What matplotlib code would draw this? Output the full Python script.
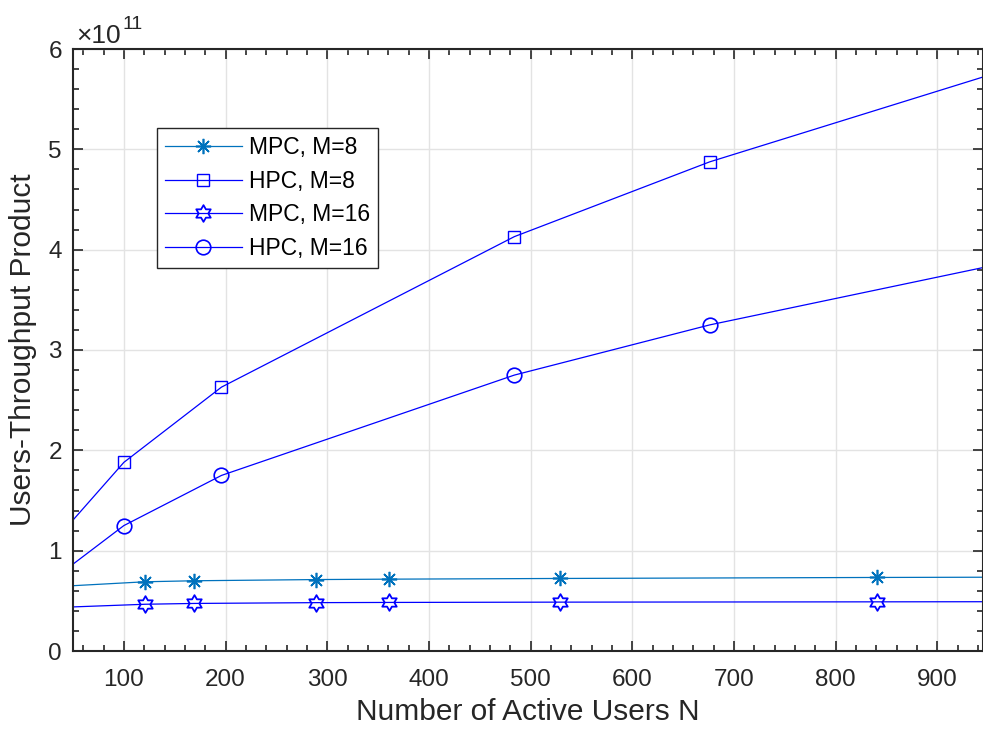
import numpy as np
import matplotlib.pyplot as plt
from matplotlib.path import Path
from matplotlib.ticker import MultipleLocator

plt.rcParams['font.family'] = ['Liberation Sans', 'DejaVu Sans']

# --- Data (values in units of 1e11) ---
# first and last points lie outside the visible x range, they only carry the line
n_mpc = [25, 121, 169, 289, 361, 529, 841, 1024]
mpc_m8 = [0.637, 0.690, 0.700, 0.712, 0.716, 0.723, 0.733, 0.737]
mpc_m16 = [0.430, 0.466, 0.474, 0.482, 0.484, 0.487, 0.490, 0.492]

n_hpc = [36, 100, 196, 484, 676, 1024]
hpc_m8 = [1.144, 1.88, 2.63, 4.13, 4.875, 5.97]
hpc_m16 = [0.758, 1.25, 1.75, 2.75, 3.25, 3.99]

labels = ['MPC, M=8', 'HPC, M=8', 'MPC, M=16', 'HPC, M=16']

mpc_marks = list(range(1, len(n_mpc) - 1))
hpc_marks = list(range(1, len(n_hpc) - 1))

hexagram = Path.unit_regular_star(6, 0.577)
matlab_blue = '#0072BD'
txt = '#262626'

fig = plt.figure(figsize=(9.83, 7.33), dpi=100)
ax = fig.add_axes([73/983, 82/733, 910/983, 602/733])

ax.plot(n_mpc, mpc_m8, color=matlab_blue, lw=0.9, marker=(8, 2, 0), ms=11,
        mew=1.2, markevery=mpc_marks, label=labels[0])
ax.plot(n_hpc, hpc_m8, color='b', lw=0.9, marker='s', ms=8, mfc='none',
        mew=1.0, markevery=hpc_marks, label=labels[1])
ax.plot(n_mpc, mpc_m16, color='b', lw=0.9, marker=hexagram, ms=12, mfc='none',
        mew=1.3, markevery=mpc_marks, label=labels[2])
ax.plot(n_hpc, hpc_m16, color='b', lw=0.9, marker='o', ms=10.5, mfc='none',
        mew=1.2, markevery=hpc_marks, label=labels[3])

ax.set_xlim(50, 944.8)
ax.set_ylim(0, 6)
ax.xaxis.set_major_locator(MultipleLocator(100))
ax.xaxis.set_minor_locator(MultipleLocator(20))
ax.yaxis.set_major_locator(MultipleLocator(1))
ax.yaxis.set_minor_locator(MultipleLocator(0.2))
ax.tick_params(which='both', direction='in', top=True, right=True,
               color=txt, labelcolor=txt, labelsize=17.5, width=1.2)
ax.tick_params(which='major', length=7)
ax.tick_params(which='minor', length=4)
ax.tick_params(axis='x', pad=13)
ax.tick_params(axis='y', pad=8)
for s in ax.spines.values():
    s.set_color(txt)
    s.set_linewidth(1.5)

ax.grid(True, which='major', color='#e3e3e3', lw=1.0)
ax.set_axisbelow(True)

ax.set_xlabel('Number of Active Users N', fontsize=21.5, color=txt, labelpad=5)
ax.set_ylabel('Users-Throughput Product', fontsize=21.5, color=txt, labelpad=8)

# exponent label, drawn the MATLAB way
fig.text(76/983, 1 - 43/733, '×10', fontsize=19, color=txt,
         ha='left', va='baseline')
fig.text(123/983, 1 - 29/733, '11', fontsize=14, color=txt,
         ha='left', va='baseline')

leg = ax.legend(loc='upper left', bbox_to_anchor=(84/910, (651 - 128)/602),
                fontsize=16.5, frameon=True, fancybox=False, handlelength=3.35,
                labelspacing=0.46, borderpad=0.35, handletextpad=0.3,
                borderaxespad=0)
leg.get_frame().set_edgecolor(txt)
leg.get_frame().set_linewidth(1.0)
leg.get_frame().set_alpha(1)

fig.savefig('out.png', dpi=100)
